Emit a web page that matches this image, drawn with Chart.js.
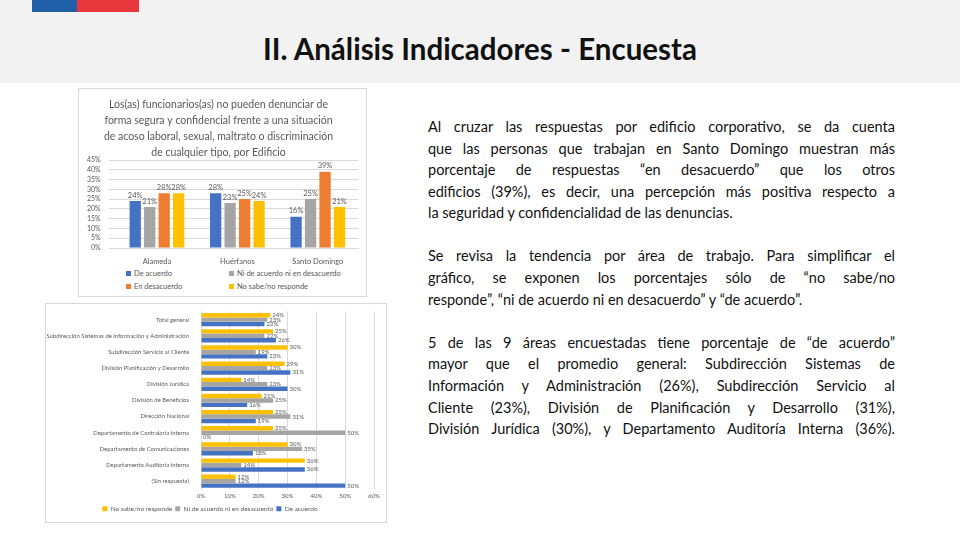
<!DOCTYPE html>
<html lang="es">
<head>
  <meta charset="UTF-8" />
  <title>Análisis Indicadores - Encuesta</title>
  <script src="https://cdn.jsdelivr.net/npm/chart.js"></script>
  <style>
    body {
      margin: 0;
      width: 960px;
      height: 540px;
      position: relative;
      background: #ffffff;
      font-family: Lato, "Open Sans", sans-serif;
      overflow: hidden;
    }

    header {
      position: absolute;
      left: 0; top: 0;
      width: 960px;
      height: 83px;
      background: #f2f2f2;
    }

    .flag-blue { position: absolute; left: 32px; top: 0; width: 45px; height: 12px; background: #1f5fa8; }
    .flag-red  { position: absolute; left: 77px; top: 0; width: 62px; height: 12px; background: #e8383d; }

    h1 {
      position: absolute;
      left: 0; top: 31px;
      width: 960px;
      margin: 0;
      text-align: center;
      font-family: Lato, sans-serif;
      font-size: 29.5px;
      font-weight: bold;
      color: #111;
    }

    .box {
      position: absolute;
      background: #fff;
      border: 1px solid #d9d9d9;
    }

    #topBox { left: 78px; top: 88px; width: 287px; height: 207px; }
    #topWrap { position: absolute; left: 0; top: 0; width: 287px; height: 178px; }
    #bottomBox { left: 45px; top: 303px; width: 340px; height: 218px; }
    #bottomWrap { position: absolute; left: 0; top: 0; width: 340px; height: 218px; }

    #topLegend {
      position: absolute;
      left: 47px; top: 180px;
      display: grid;
      grid-template-columns: 103px 130px;
      row-gap: 4px;
      font-size: 7.5px;
      color: #595959;
    }
    #topLegend span.sw {
      display: inline-block;
      width: 5px; height: 5px;
      margin-right: 3px;
    }

    #text {
      position: absolute;
      left: 428px; top: 116px;
      width: 467px;
      font-size: 14.5px;
      line-height: 21.6px;
      color: #111;
    }
    #text .para { margin: 0 0 21.5px 0; }
    #text .ln { text-align: justify; text-align-last: justify; }
    #text .end { text-align: left; text-align-last: left; }
  </style>
</head>
<body>
  <header>
    <div class="flag-blue"></div>
    <div class="flag-red"></div>
    <h1>II. Análisis Indicadores - Encuesta</h1>
  </header>

  <div class="box" id="topBox">
    <div id="topWrap"><canvas id="edificioChart"></canvas></div>
    <div id="topLegend"></div>
  </div>

  <div class="box" id="bottomBox">
    <div id="bottomWrap"><canvas id="areaChart"></canvas></div>
  </div>

  <div id="text">
    <div class="para">
      <div class="ln">Al cruzar las respuestas por edificio corporativo, se da cuenta</div>
      <div class="ln">que las personas que trabajan en Santo Domingo muestran más</div>
      <div class="ln">porcentaje de respuestas “en desacuerdo” que los otros</div>
      <div class="ln">edificios (39%), es decir, una percepción más positiva respecto a</div>
      <div class="ln end">la seguridad y confidencialidad de las denuncias.</div>
    </div>
    <div class="para">
      <div class="ln">Se revisa la tendencia por área de trabajo. Para simplificar el</div>
      <div class="ln">gráfico, se exponen los porcentajes sólo de “no sabe/no</div>
      <div class="ln end">responde”, “ni de acuerdo ni en desacuerdo” y “de acuerdo”.</div>
    </div>
    <div class="para">
      <div class="ln">5 de las 9 áreas encuestadas tiene porcentaje de “de acuerdo”</div>
      <div class="ln">mayor que el promedio general: Subdirección Sistemas de</div>
      <div class="ln">Información y Administración (26%), Subdirección Servicio al</div>
      <div class="ln">Cliente (23%), División de Planificación y Desarrollo (31%),</div>
      <div class="ln">División Jurídica (30%), y Departamento Auditoría Interna (36%).</div>
    </div>
  </div>

  <script>
    // --- chart 1: por edificio ---
    const edificios = ["Alameda", "Huérfanos", "Santo Domingo"];
    const deAcuerdo = [24, 28, 16];
    const niNi = [21, 23, 25];
    const enDesacuerdo = [28, 25, 39];
    const noSabe = [28, 24, 21];
    const edificioTicks = [0, 5, 10, 15, 20, 25, 30, 35, 40, 45];

    // --- chart 2: por area ---
    const areas = [
      "Total general",
      "Subdirección Sistemas de Información y Administración",
      "Subdirección Servicio al Cliente",
      "División Planificación y Desarrollo",
      "División Jurídica",
      "División de Beneficios",
      "Dirección Nacional",
      "Departamento de Contraloría Interna",
      "Departamento de Comunicaciones",
      "Departamento Auditoría Interna",
      "(Sin respuesta)"
    ];
    const areaNoSabe = [24, 25, 30, 29, 14, 21, 25, 25, 30, 36, 12];
    const areaNiNi = [23, 22, 19, 23, 23, 25, 31, 50, 35, 14, 12];
    const areaDeAcuerdo = [22, 26, 23, 31, 30, 16, 19, 0, 18, 36, 50];
    const areaTicks = [0, 10, 20, 30, 40, 50, 60];

    const BLUE = "#4472c4", GRAY = "#a5a5a5", ORANGE = "#ed7d31", YELLOW = "#ffc000";
    const TXT = "#595959";

    Chart.defaults.font.family = "Lato, 'Open Sans', sans-serif";
    Chart.defaults.color = TXT;
    Chart.defaults.animation = false;

    // writes the value of every bar next to it
    const valueLabels = {
      id: "valueLabels",
      afterDatasetsDraw(chart, args, opts) {
        const ctx = chart.ctx;
        const horizontal = chart.options.indexAxis === "y";
        ctx.save();
        ctx.font = opts.size + "px Lato, sans-serif";
        ctx.fillStyle = TXT;
        chart.data.datasets.forEach((ds, i) => {
          chart.getDatasetMeta(i).data.forEach((bar, j) => {
            const txt = ds.data[j] + "%";
            if (horizontal) {
              ctx.textAlign = "left";
              ctx.textBaseline = "middle";
              ctx.fillText(txt, bar.x + 2, bar.y);
            } else {
              ctx.textAlign = "center";
              ctx.textBaseline = "bottom";
              ctx.fillText(txt, bar.x, bar.y - 2);
            }
          });
        });
        ctx.restore();
      }
    };

    const topSets = [
      { label: "De acuerdo", data: deAcuerdo, backgroundColor: BLUE },
      { label: "Ni de acuerdo ni en desacuerdo", data: niNi, backgroundColor: GRAY },
      { label: "En desacuerdo", data: enDesacuerdo, backgroundColor: ORANGE },
      { label: "No sabe/no responde", data: noSabe, backgroundColor: YELLOW }
    ];

    new Chart(document.getElementById("edificioChart"), {
      type: "bar",
      data: { labels: edificios, datasets: topSets },
      plugins: [valueLabels],
      options: {
        responsive: true,
        maintainAspectRatio: false,
        layout: { padding: { left: 0, right: 8, top: 0, bottom: 0 } },
        datasets: { bar: { categoryPercentage: 0.72, barPercentage: 0.78 } },
        plugins: {
          legend: { display: false },
          tooltip: { enabled: false },
          title: {
            display: true,
            text: [
              "Los(as) funcionarios(as) no pueden denunciar de",
              "forma segura y confidencial frente a una situación",
              "de acoso laboral, sexual, maltrato o discriminación",
              "de cualquier tipo, por Edificio"
            ],
            color: TXT,
            font: { size: 10.5, weight: "normal", lineHeight: 1.5 },
            padding: { top: 8, bottom: 0 }
          },
          valueLabels: { size: 7.5 }
        },
        scales: {
          x: {
            grid: { display: false },
            border: { color: "#d9d9d9" },
            ticks: { font: { size: 7.5 }, padding: 1 }
          },
          y: {
            min: 0,
            max: 45,
            afterBuildTicks: s => { s.ticks = edificioTicks.map(v => ({ value: v })); },
            grid: { color: "#d9d9d9" },
            border: { display: false },
            ticks: { font: { size: 7 }, callback: v => v + "%", padding: 8, autoSkip: false }
          }
        }
      }
    });

    // html legend in two columns like the original
    const legend = document.getElementById("topLegend");
    [0, 1, 2, 3].forEach(i => {
      const d = document.createElement("div");
      d.innerHTML = '<span class="sw" style="background:' + topSets[i].backgroundColor + '"></span>' + topSets[i].label;
      legend.appendChild(d);
    });

    new Chart(document.getElementById("areaChart"), {
      type: "bar",
      data: {
        labels: areas,
        datasets: [
          { label: "No sabe/no responde", data: areaNoSabe, backgroundColor: YELLOW },
          { label: "Ni de acuerdo ni en desacuerdo", data: areaNiNi, backgroundColor: GRAY },
          { label: "De acuerdo", data: areaDeAcuerdo, backgroundColor: BLUE }
        ]
      },
      plugins: [valueLabels],
      options: {
        indexAxis: "y",
        responsive: true,
        maintainAspectRatio: false,
        layout: { padding: { left: 0, right: 12, top: 6, bottom: 0 } },
        datasets: { bar: { categoryPercentage: 0.82, barPercentage: 1 } },
        plugins: {
          legend: {
            position: "bottom",
            labels: { boxWidth: 5, boxHeight: 5, font: { size: 6.5 }, padding: 3 }
          },
          tooltip: { enabled: false },
          valueLabels: { size: 6 }
        },
        scales: {
          x: {
            min: 0,
            max: 60,
            afterBuildTicks: s => { s.ticks = areaTicks.map(v => ({ value: v })); },
            grid: { color: "#d9d9d9", drawTicks: false },
            border: { display: false },
            ticks: { font: { size: 6 }, callback: v => v + "%", padding: 3 }
          },
          y: {
            afterFit: s => { s.width = 155; },
            grid: { display: false },
            border: { color: "#d9d9d9" },
            ticks: { font: { size: 5.9 }, autoSkip: false, padding: 4 }
          }
        }
      }
    });
  </script>
</body>
</html>
